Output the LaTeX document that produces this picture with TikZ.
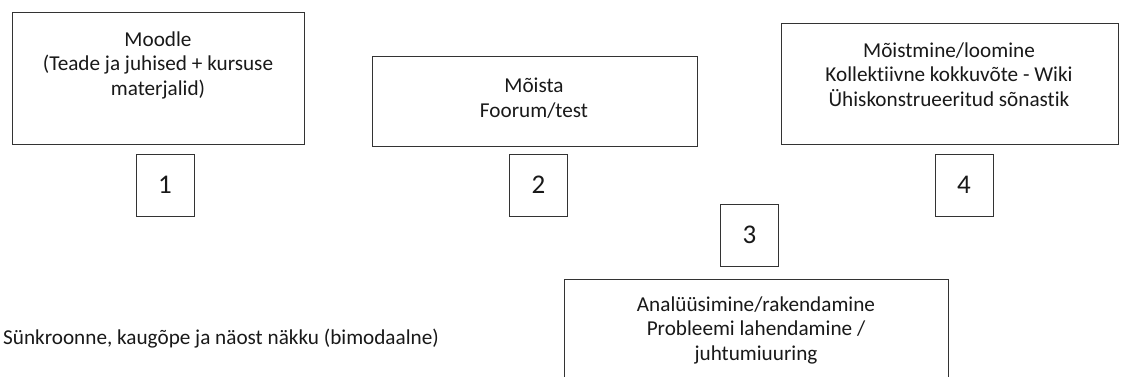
\documentclass[tikz,border=0pt]{standalone}
\usepackage{fontspec}
\setmainfont[Ligatures={NoCommon}]{Carlito}
\begin{document}
\begin{tikzpicture}[x=1pt,y=-1pt,
  box/.style={draw=black!80, line width=1pt, rectangle, inner sep=0pt},
  txt/.style={font=\fontsize{21.2}{24.5}\selectfont, align=center, inner sep=0pt, text=black!90},
  numbox/.style={box, minimum width=58pt, minimum height=62pt, font=\fontsize{27}{30}\selectfont, text=black!90}]
\clip (0,0) rectangle (1125,376);
\fill[white] (0,0) rectangle (1125,376);
% big boxes
\node[box, anchor=north west, minimum width=292pt, minimum height=132pt] (b1) at (12,12) {};
\node[box, anchor=north west, minimum width=325pt, minimum height=90pt] (b2) at (372,56) {};
\node[box, anchor=north west, minimum width=337pt, minimum height=121pt] (b4) at (781,23) {};
\node[box, anchor=north west, minimum width=384pt, minimum height=120pt] (b3) at (564,279) {};
% texts (base anchor = baseline of the last line)
\node[txt, anchor=base] (t1) at (158,95) {Moodle\\(Teade ja juhised + kursuse\\materjalid)};
\node[txt, anchor=base] (t2) at (534,117) {Mõista\\Foorum/test};
\node[txt, anchor=base] (t4) at (949,106) {Mõistmine/loomine\\Kollektiivne kokkuvõte - Wiki\\Ühiskonstrueeritud sõnastik};
\node[txt, anchor=base] (t3) at (756,360) {Analüüsimine/rakendamine\\Probleemi lahendamine /\\juhtumiuuring};
% number boxes
\node[numbox] (n1) at (165,185) {1};
\node[numbox] (n2) at (538.5,185) {2};
\node[numbox] (n4) at (964,185) {4};
\node[numbox] (n3) at (749.5,235) {3};
% side text
\node[txt, anchor=base west] (side) at (3,344) {Sünkroonne, kaugõpe ja näost näkku (bimodaalne)};
\end{tikzpicture}
\end{document}
